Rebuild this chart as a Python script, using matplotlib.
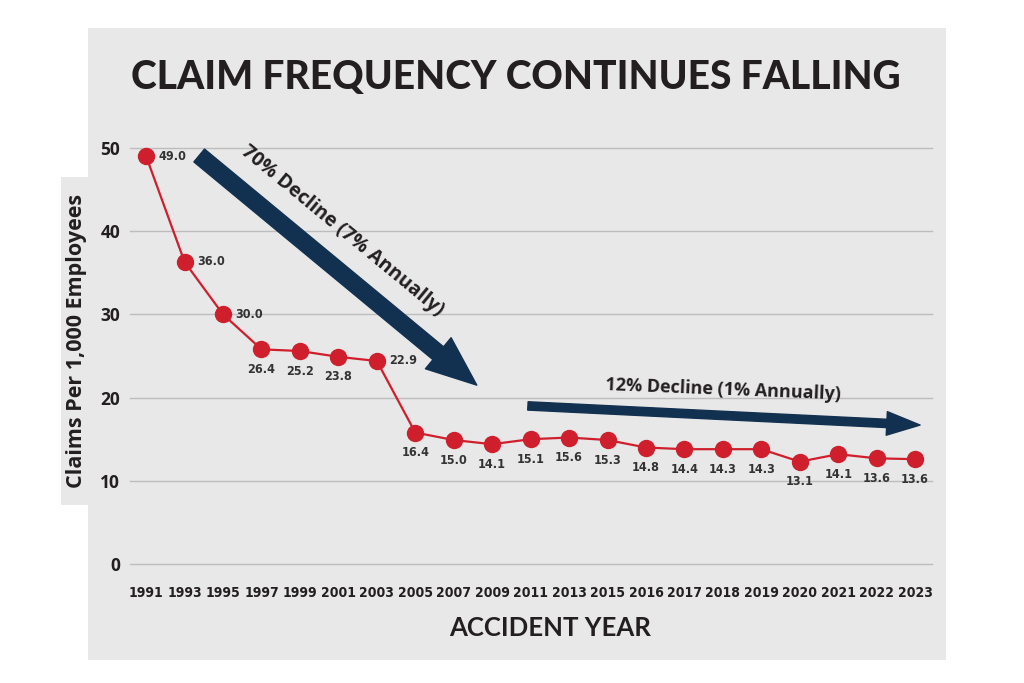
import matplotlib
matplotlib.use("Agg")
import matplotlib.pyplot as plt
from matplotlib.patches import Rectangle, FancyArrowPatch

# Dados
years = ["1991", "1993", "1995", "1997", "1999", "2001", "2003", "2005", "2007", "2009",
         "2011", "2013", "2015", "2016", "2017", "2018", "2019", "2020", "2021", "2022", "2023"]
claims = [49.0, 36.3, 30.0, 25.8, 25.6, 24.9, 24.4, 15.8, 14.9, 14.4,
          15.0, 15.2, 14.9, 14.0, 13.8, 13.8, 13.8, 12.3, 13.2, 12.7, 12.6]
claim_labels = ["49.0", "36.0", "30.0", "26.4", "25.2", "23.8", "22.9", "16.4", "15.0", "14.1",
                "15.1", "15.6", "15.3", "14.8", "14.4", "14.3", "14.3", "13.1", "14.1", "13.6", "13.6"]
label_right = [True, True, True, False, False, False, True] + [False] * 14
y_ticks = [0, 10, 20, 30, 40, 50]

PANEL = "#e8e8e8"
NAVY = "#12304f"
RED = "#d01f2c"
TXT = "#231f20"

W, H = 1024, 683
fig = plt.figure(figsize=(W / 100, H / 100), dpi=100)
fig.patch.set_facecolor("white")

# painel cinza + aba do rotulo Y
fig.patches.append(Rectangle((88 / W, 1 - 660 / H), (946 - 88) / W, (660 - 28) / H,
                             transform=fig.transFigure, facecolor=PANEL, edgecolor="none", zorder=-1))
fig.patches.append(Rectangle((61 / W, 1 - 505 / H), 30 / W, (505 - 177) / H,
                             transform=fig.transFigure, facecolor=PANEL, edgecolor="none", zorder=-1))

ax = fig.add_axes([130 / W, 1 - 564 / H, (932 - 130) / W, (564 - 148) / H])
ax.set_zorder(2)
ax.set_facecolor("none")
x = list(range(len(years)))
ax.set_xlim(-0.42, len(years) - 1 + 0.44)
ax.set_ylim(0, 50)

for t in y_ticks:
    ax.axhline(t, color="#bdbdbd", lw=1.0, zorder=1, clip_on=False)

ax.plot(x, claims, color=RED, lw=1.6, zorder=3, clip_on=False)
ax.plot(x, claims, "o", color=RED, ms=11.5, zorder=4, clip_on=False)

for xi, v, lab, right in zip(x, claims, claim_labels, label_right):
    if right:
        ax.annotate(lab, (xi, v), xytext=(9, 0), textcoords="offset points",
                    ha="left", va="center", fontsize=9, fontweight="bold",
                    family="DejaVu Sans", fontstretch="condensed", color="#333333")
    else:
        ax.annotate(lab, (xi, v), xytext=(0, -14.5), textcoords="offset points",
                    ha="center", va="center", fontsize=9, fontweight="bold",
                    family="DejaVu Sans", fontstretch="condensed", color="#333333")

for s in ax.spines.values():
    s.set_visible(False)
ax.set_yticks(y_ticks)
ax.set_yticklabels([str(t) for t in y_ticks], fontsize=12.5, fontweight="bold",
                   family="Open Sans", color=TXT)
ax.set_xticks(x)
ax.set_xticklabels(years, fontsize=10, fontweight="bold", family="DejaVu Sans",
                   fontstretch="condensed", color=TXT)
ax.tick_params(length=0)
ax.tick_params(axis="y", pad=7)
ax.tick_params(axis="x", pad=16)

# setas
a1 = FancyArrowPatch((1.38, 49.1), (8.6, 21.5), arrowstyle="simple,head_width=2.9,head_length=3.6,tail_width=1.2",
                     mutation_scale=10, color=NAVY, shrinkA=0, shrinkB=0, zorder=5, clip_on=False)
ax.add_patch(a1)
a2 = FancyArrowPatch((9.93, 19.0), (20.13, 16.7), arrowstyle="simple,head_width=1.7,head_length=2.4,tail_width=0.6",
                     mutation_scale=10, color=NAVY, shrinkA=0, shrinkB=0, zorder=5, clip_on=False)
ax.add_patch(a2)

ax.text(5.1, 40.0, "70% Decline (7% Annually)", rotation=-39.5, rotation_mode="anchor",
        ha="center", va="center", fontsize=14, fontweight="bold", family="Open Sans", color=TXT)
ax.text(15.0, 20.9, "12% Decline (1% Annually)", rotation=-2.3, rotation_mode="anchor",
        ha="center", va="center", fontsize=13, fontweight="bold", family="Open Sans", color=TXT)

# textos
fig.text(516 / W, 1 - 77 / H, "CLAIM FREQUENCY CONTINUES FALLING", ha="center", va="center",
         fontsize=28, fontweight="black", family="Lato", color=TXT)
fig.text(550 / W, 1 - 628 / H, "ACCIDENT YEAR", ha="center", va="center",
         fontsize=18.5, fontweight="bold", family="Lato", color=TXT)
fig.text(77 / W, 1 - 341 / H, "Claims Per 1,000 Employees", rotation=90, ha="center", va="center",
         fontsize=15.5, fontweight="bold", family="Open Sans", color=TXT)

fig.savefig("out.png", dpi=100, facecolor="white")
